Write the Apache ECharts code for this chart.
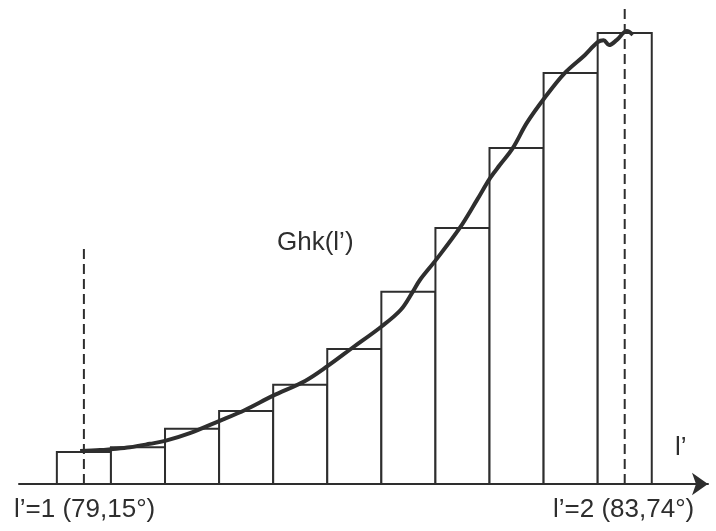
<!DOCTYPE html>
<html>
<head>
<meta charset="utf-8">
<style>
  html, body { margin: 0; padding: 0; background: #ffffff; }
  #chart { width: 716px; height: 531px; }
</style>
<script src="https://cdn.jsdelivr.net/npm/echarts@6/dist/echarts.min.js"></script>
</head>
<body>
<div id="chart"></div>
<script>
// Bar centres (l' units) and heights (relative Ghk)
const barCenters = [1.0, 1.1, 1.2, 1.3, 1.4, 1.5, 1.6, 1.7, 1.8, 1.9, 2.0];
const barValues = [6.6, 7.6, 11.4, 15.1, 20.5, 27.9, 39.7, 52.9, 69.4, 84.9, 93.2];
const barHalfWidth = 0.05;

// Measured curve Ghk(l')
const curveX = [0.993, 1.030, 1.050, 1.085, 1.122, 1.150, 1.196, 1.250, 1.298, 1.349, 1.409, 1.451, 1.496, 1.551, 1.586, 1.608, 1.621, 1.651, 1.695, 1.727, 1.751, 1.769, 1.793, 1.819, 1.852, 1.889, 1.926, 1.950, 1.961, 1.971, 1.985, 2.004, 2.015];
const curveY = [6.8, 7.0, 7.2, 7.6, 8.3, 8.9, 10.5, 13.0, 15.3, 18.2, 21.3, 24.4, 28.1, 32.6, 36.0, 39.7, 42.1, 46.3, 52.9, 58.7, 63.2, 65.9, 69.4, 74.6, 79.8, 84.9, 88.6, 91.3, 91.7, 90.7, 91.7, 93.6, 92.8];

// Dashed reference lines
const dashX = [1.0, 2.0];
const dashTop = [49.4, 98.3];

// Text labels
const leftLabel = 'l\u2019=1 (79,15°)';
const rightLabel = 'l\u2019=2 (83,74°)';
const curveLabel = 'Ghk(l\u2019)';
const axisLabelText = 'l\u2019';

const ink = '#2e2e2e';
const font = '"Liberation Sans", Arial, sans-serif';

const chart = echarts.init(document.getElementById('chart'));

const barData = barCenters.map((c, i) => [c, barValues[i]]);
const curveData = curveX.map((x, i) => [x, curveY[i]]);

const dashSeries = dashX.map((x, i) => ({
  type: 'line',
  data: [[x, 0], [x, dashTop[i]]],
  symbol: 'none',
  silent: true,
  lineStyle: { color: ink, width: 2, type: [10, 5] },
  z: 3
}));

chart.setOption({
  backgroundColor: '#ffffff',
  animation: false,
  grid: { left: 19, right: 8, top: 0, bottom: 47 },
  xAxis: {
    type: 'value',
    min: 0.88,
    max: 2.154,
    axisLine: {
      show: true,
      symbol: ['none', 'arrow'],
      symbolSize: [17, 16],
      lineStyle: { color: ink, width: 2 }
    },
    axisTick: { show: false },
    axisLabel: { show: false },
    splitLine: { show: false }
  },
  yAxis: {
    type: 'value',
    min: 0,
    max: 100,
    show: false,
    splitLine: { show: false }
  },
  series: [
    {
      type: 'custom',
      data: barData,
      renderItem: function (params, api) {
        const c = api.value(0);
        const v = api.value(1);
        const p0 = api.coord([c - barHalfWidth, v]);
        const p1 = api.coord([c + barHalfWidth, 0]);
        return {
          type: 'rect',
          shape: { x: p0[0], y: p0[1], width: p1[0] - p0[0], height: p1[1] - p0[1] },
          style: { fill: '#ffffff', stroke: ink, lineWidth: 2 }
        };
      },
      z: 2
    },
    ...dashSeries,
    {
      type: 'line',
      data: curveData,
      smooth: 0.35,
      symbol: 'none',
      lineStyle: { color: ink, width: 4 },
      z: 4
    }
  ],
  graphic: [
    { type: 'text', left: 14, top: 497, style: { text: leftLabel, font: '26px ' + font, fill: ink } },
    { type: 'text', left: 553, top: 497, style: { text: rightLabel, font: '26px ' + font, fill: ink } },
    { type: 'text', left: 277, top: 230, style: { text: curveLabel, font: '26px ' + font, fill: ink } },
    { type: 'text', left: 675, top: 435, style: { text: axisLabelText, font: '26px ' + font, fill: ink } }
  ]
});
</script>
</body>
</html>
